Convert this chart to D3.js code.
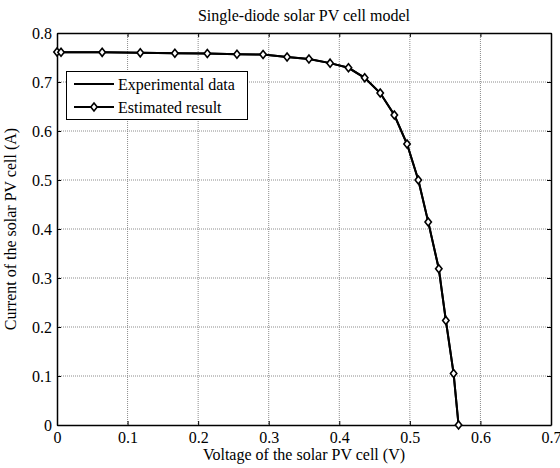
<!DOCTYPE html>
<html>
<head>
<meta charset="utf-8">
<script src="https://cdn.jsdelivr.net/npm/d3@7"></script>
<style>
  body { margin: 0; background: #fff; }
  text { font-family: "Liberation Serif", "Times New Roman", serif; fill: #000; }
</style>
</head>
<body>
<div id="chart"></div>
<script>
/**
 * DATA
 * */
const voltage = [0, 0.0057, 0.064, 0.118, 0.167, 0.213, 0.255, 0.292, 0.326, 0.357, 0.387,
  0.413, 0.436, 0.458, 0.478, 0.496, 0.512, 0.526, 0.541, 0.551, 0.562, 0.569];
const measuredCurrent = [0.7612, 0.7608, 0.7605, 0.7595, 0.7588, 0.7580, 0.7566, 0.7562, 0.7510, 0.7470, 0.7385,
  0.7290, 0.7085, 0.6775, 0.6325, 0.5735, 0.5000, 0.4145, 0.3190, 0.2135, 0.1050, 0.0];
const estimatedCurrent = [0.7612, 0.7608, 0.7605, 0.7595, 0.7588, 0.7580, 0.7566, 0.7562, 0.7510, 0.7470, 0.7385,
  0.7290, 0.7085, 0.6775, 0.6325, 0.5735, 0.5000, 0.4145, 0.3190, 0.2135, 0.1050, 0.0];
const xTicks = [0, 0.1, 0.2, 0.3, 0.4, 0.5, 0.6, 0.7];
const yTicks = [0, 0.1, 0.2, 0.3, 0.4, 0.5, 0.6, 0.7, 0.8];
const legendLabels = ["Experimental data", "Estimated result"];

/**
 * CONSTANTS
 * */
const width = 560, height = 468,
  margin = { top: 33, right: 9, bottom: 43, left: 57 },
  fontSize = "16px";

const svg = d3.select("#chart").append("svg")
  .attr("width", width)
  .attr("height", height);

const x = d3.scaleLinear().domain([0, 0.7]).range([margin.left, width - margin.right]);
const y = d3.scaleLinear().domain([0, 0.8]).range([height - margin.bottom, margin.top]);

const fmt = d => d === 0 ? "0" : d3.format(".1f")(d);

// grid (dotted, like matlab)
svg.append("g").selectAll("line")
  .data(xTicks.slice(1, -1))
  .join("line")
  .attr("x1", d => x(d)).attr("x2", d => x(d))
  .attr("y1", y(0.8)).attr("y2", y(0))
  .attr("stroke", "#8c8c8c").attr("stroke-dasharray", "1,1");

svg.append("g").selectAll("line")
  .data(yTicks.slice(1, -1))
  .join("line")
  .attr("y1", d => y(d)).attr("y2", d => y(d))
  .attr("x1", x(0)).attr("x2", x(0.7))
  .attr("stroke", "#8c8c8c").attr("stroke-dasharray", "1,1");

// axes, ticks pointing inward
svg.append("g")
  .attr("transform", `translate(0,${y(0)})`)
  .call(d3.axisBottom(x).tickValues(xTicks).tickFormat(fmt).tickSizeInner(-4).tickSizeOuter(0).tickPadding(7));
svg.append("g")
  .attr("transform", `translate(${x(0)},0)`)
  .call(d3.axisLeft(y).tickValues(yTicks).tickFormat(fmt).tickSizeInner(-4).tickSizeOuter(0).tickPadding(5));
svg.append("g")
  .attr("transform", `translate(0,${y(0.8)})`)
  .call(d3.axisTop(x).tickValues(xTicks).tickFormat("").tickSizeInner(-4).tickSizeOuter(0));
svg.append("g")
  .attr("transform", `translate(${x(0.7)},0)`)
  .call(d3.axisRight(y).tickValues(yTicks).tickFormat("").tickSizeInner(-4).tickSizeOuter(0));

svg.selectAll(".domain").attr("stroke", "#000").attr("stroke-width", 1.5);
svg.selectAll(".tick line").attr("stroke", "#000");
svg.selectAll(".tick text")
  .style("font-family", '"Liberation Serif", "Times New Roman", serif')
  .style("font-size", fontSize)
  .attr("fill", "#000");

// clip
svg.append("clipPath").attr("id", "clip")
  .append("rect")
  .attr("x", x(0) - 6).attr("y", y(0.8))
  .attr("width", x(0.7) - x(0) + 6).attr("height", y(0) - y(0.8) + 6);

const line = d3.line()
  .x(d => x(d[0]))
  .y(d => y(d[1]));

const plot = svg.append("g").attr("clip-path", "url(#clip)");

plot.append("path")
  .datum(d3.zip(voltage, measuredCurrent))
  .attr("d", line)
  .attr("fill", "none")
  .attr("stroke", "#000")
  .attr("stroke-width", 2);

plot.append("path")
  .datum(d3.zip(voltage, estimatedCurrent))
  .attr("d", line)
  .attr("fill", "none")
  .attr("stroke", "#000")
  .attr("stroke-width", 2);

const diamond = "M0,-4L3.2,0L0,4L-3.2,0Z";

plot.selectAll(".marker")
  .data(d3.zip(voltage, estimatedCurrent))
  .join("path")
  .attr("class", "marker")
  .attr("transform", d => `translate(${x(d[0])},${y(d[1])})`)
  .attr("d", diamond)
  .attr("fill", "#fff")
  .attr("stroke", "#000")
  .attr("stroke-width", 1.6);

// title + labels
svg.append("text")
  .attr("x", (x(0) + x(0.7)) / 2)
  .attr("y", 21)
  .attr("text-anchor", "middle")
  .style("font-size", fontSize)
  .text("Single-diode solar PV cell model");

svg.append("text")
  .attr("x", (x(0) + x(0.7)) / 2)
  .attr("y", 460)
  .attr("text-anchor", "middle")
  .style("font-size", fontSize)
  .text("Voltage of the solar PV cell (V)");

svg.append("text")
  .attr("transform", `translate(16,${(y(0) + y(0.8)) / 2}) rotate(-90)`)
  .attr("text-anchor", "middle")
  .style("font-size", fontSize)
  .text("Current of the solar PV cell (A)");

// legend
const legend = svg.append("g");
legend.append("rect")
  .attr("x", 66.5).attr("y", 71.5)
  .attr("width", 181).attr("height", 48)
  .attr("fill", "#fff")
  .attr("stroke", "#000");

const rows = legend.selectAll(".row")
  .data(legendLabels)
  .join("g")
  .attr("class", "row")
  .attr("transform", (d, i) => `translate(74,${84 + i * 23})`);

rows.append("line")
  .attr("x1", 0).attr("x2", 40)
  .attr("stroke", "#000").attr("stroke-width", 2);

rows.filter((d, i) => i === 1)
  .append("path")
  .attr("transform", "translate(20,0)")
  .attr("d", diamond)
  .attr("fill", "#fff").attr("stroke", "#000").attr("stroke-width", 1.6);

rows.append("text")
  .attr("x", 44)
  .attr("dy", "0.35em")
  .style("font-size", fontSize)
  .text(d => d);
</script>
</body>
</html>
